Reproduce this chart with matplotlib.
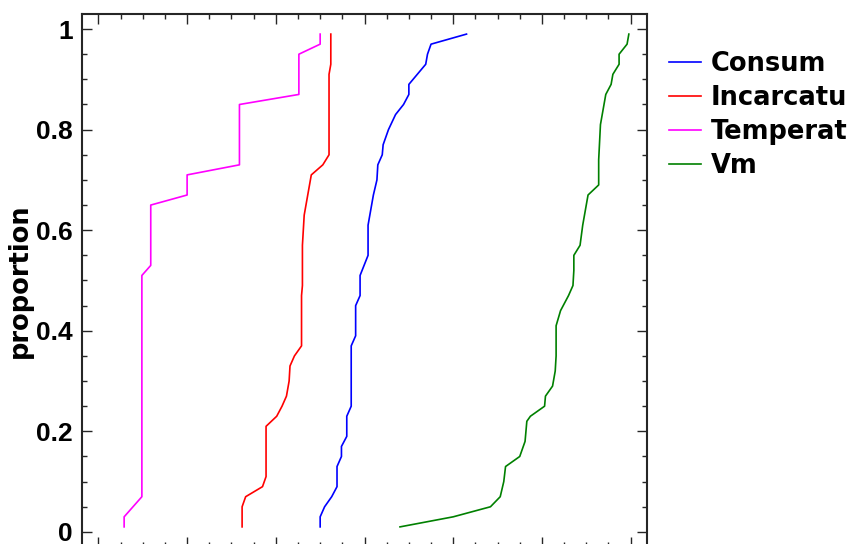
import matplotlib.pyplot as plt
from matplotlib.ticker import MultipleLocator

plt.rcParams['font.family'] = ['Liberation Sans', 'DejaVu Sans']
plt.rcParams['font.weight'] = 'bold'

# 各变量的经验分布曲线折点 (x, proportion)
consum_x = [2.50, 2.50, 2.55, 2.63, 2.69, 2.69, 2.74, 2.74, 2.80, 2.80, 2.85, 2.85,
            2.90, 2.90, 2.95, 2.95, 3.04, 3.04, 3.10, 3.14, 3.15, 3.20, 3.21, 3.27,
            3.35, 3.44, 3.50, 3.50, 3.69, 3.71, 3.75, 4.15]
consum_p = [0.01, 0.03, 0.05, 0.07, 0.09, 0.13, 0.15, 0.17, 0.19, 0.23, 0.25, 0.37,
            0.39, 0.45, 0.47, 0.51, 0.55, 0.61, 0.67, 0.70, 0.73, 0.75, 0.77, 0.80,
            0.83, 0.85, 0.87, 0.89, 0.93, 0.95, 0.97, 0.99]

incarc_x = [1.62, 1.62, 1.66, 1.85, 1.89, 1.89, 2.01, 2.07, 2.12, 2.15, 2.16, 2.21,
            2.29, 2.29, 2.30, 2.30, 2.32, 2.36, 2.40, 2.53, 2.60, 2.60, 2.62, 2.62]
incarc_p = [0.01, 0.05, 0.07, 0.09, 0.11, 0.21, 0.23, 0.25, 0.27, 0.30, 0.33, 0.35,
            0.37, 0.47, 0.49, 0.57, 0.63, 0.67, 0.71, 0.73, 0.75, 0.91, 0.93, 0.99]

temp_x = [0.29, 0.29, 0.49, 0.49, 0.59, 0.59, 1.00, 1.00, 1.59, 1.59, 2.26, 2.26, 2.50, 2.50]
temp_p = [0.01, 0.03, 0.07, 0.51, 0.53, 0.65, 0.67, 0.71, 0.73, 0.85, 0.87, 0.95, 0.97, 0.99]

vm_x = [3.40, 4.00, 4.42, 4.53, 4.57, 4.59, 4.75, 4.81, 4.83, 4.87, 5.03, 5.04,
        5.12, 5.15, 5.16, 5.16, 5.21, 5.30, 5.35, 5.36, 5.36, 5.43, 5.46, 5.49,
        5.52, 5.64, 5.64, 5.66, 5.68, 5.72, 5.78, 5.80, 5.87, 5.87, 5.96, 5.98]
vm_p = [0.01, 0.03, 0.05, 0.07, 0.10, 0.13, 0.15, 0.18, 0.22, 0.23, 0.25, 0.27,
        0.29, 0.32, 0.35, 0.41, 0.44, 0.47, 0.49, 0.52, 0.55, 0.57, 0.61, 0.64,
        0.67, 0.69, 0.74, 0.81, 0.83, 0.87, 0.89, 0.91, 0.93, 0.95, 0.97, 0.99]

labels = ['Consum', 'Incarcatura', 'Temperatura', 'Vm']
colors = ['#0000ff', '#ff0000', '#ff00ff', '#008000']

fig = plt.figure(figsize=(8.48, 5.44), dpi=100)
ax = fig.add_axes([0.0967, -0.0055, 0.6663, 0.9798])

series = [(consum_x, consum_p), (incarc_x, incarc_p), (temp_x, temp_p), (vm_x, vm_p)]
for (xs, ps), lab, c in zip(series, labels, colors):
    ax.plot(xs, ps, color=c, lw=1.2, label=lab)

ax.set_xlim(-0.185, 6.185)
ax.set_ylim(-0.03, 1.03)
ax.xaxis.set_major_locator(MultipleLocator(1))
ax.xaxis.set_minor_locator(MultipleLocator(0.25))
ax.yaxis.set_minor_locator(MultipleLocator(0.05))
ax.set_yticks([0, 0.2, 0.4, 0.6, 0.8, 1])
ax.set_yticklabels(['0', '0.2', '0.4', '0.6', '0.8', '1'])

ax.tick_params(which='both', direction='in', top=True, right=True,
               labelbottom=False, color='#262626', width=1.0)
ax.tick_params(which='major', length=7.2, labelsize=19, pad=6.5)
ax.tick_params(which='minor', length=3.6)
for s in ax.spines.values():
    s.set_linewidth(1.5)
    s.set_color('#262626')

wide = {'family': 'DejaVu Sans', 'weight': 'bold', 'size': 18.5}
ax.set_ylabel('proportion', fontdict=wide)
ax.yaxis.set_label_coords(-0.087, 0.5)

ax.legend(loc='upper left', bbox_to_anchor=(1.02, 0.95), frameon=False,
          prop=wide, handlelength=1.25, handletextpad=0.38, labelspacing=0.31,
          borderaxespad=0)

fig.savefig('out.png', dpi=100)
